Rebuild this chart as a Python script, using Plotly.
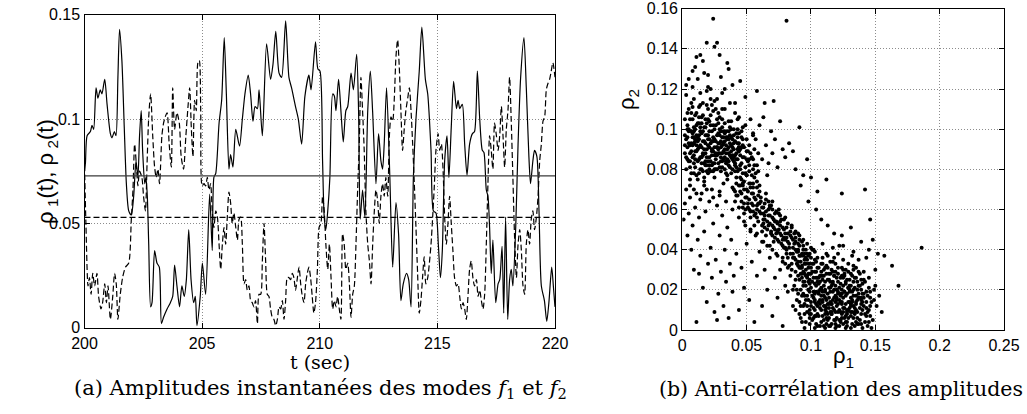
import plotly.graph_objects as go

# ---------------- data : panel (a) time series ----------------
t_rho1 = [200.00, 200.04, 200.11, 200.25, 200.32, 200.39, 200.49, 200.57, 200.67, 200.74,
          200.86, 200.96, 201.10, 201.17, 201.27, 201.34, 201.42, 201.49, 201.59, 201.69,
          201.78, 201.88, 201.99, 202.09, 202.19, 202.27, 202.34, 202.41, 202.47, 202.56,
          202.61, 202.67, 202.73, 202.81, 202.87, 202.98, 203.08, 203.18, 203.27, 203.36,
          203.51, 203.65, 203.75, 203.83, 203.93, 204.04, 204.14, 204.24, 204.33, 204.43,
          204.53, 204.64, 204.71, 204.78, 204.92, 205.01, 205.15, 205.32, 205.43, 205.50,
          205.58, 205.72, 205.83, 205.94, 206.03, 206.14, 206.21, 206.31, 206.43, 206.59,
          206.71, 206.82, 206.96, 207.06, 207.16, 207.25, 207.35, 207.42, 207.56, 207.74,
          207.91, 208.01, 208.13, 208.27, 208.38, 208.55, 208.69, 208.80, 208.97, 209.09,
          209.23, 209.37, 209.54, 209.63, 209.82, 209.92, 210.01, 210.12, 210.19, 210.26,
          210.34, 210.43, 210.55, 210.62, 210.69, 210.80, 210.90, 211.00, 211.11, 211.19,
          211.33, 211.43, 211.57, 211.65, 211.72, 211.82, 211.92, 212.04, 212.15, 212.25,
          212.39, 212.50, 212.60, 212.67, 212.74, 212.84, 212.98, 213.10, 213.24, 213.35,
          213.45, 213.55, 213.69, 213.78, 213.88, 213.98, 214.09, 214.23, 214.34, 214.49,
          214.59, 214.73, 214.83, 214.94, 215.04, 215.13, 215.21, 215.31, 215.41, 215.49,
          215.59, 215.69, 215.81, 215.88, 215.95, 216.06, 216.16, 216.26, 216.37, 216.49,
          216.58, 216.70, 216.80, 216.91, 216.98, 217.08, 217.15, 217.22, 217.29, 217.36,
          217.48, 217.58, 217.65, 217.75, 217.82, 217.90, 217.99, 218.07, 218.14, 218.21,
          218.33, 218.43, 218.54, 218.68, 218.78, 218.89, 218.96, 219.06, 219.13, 219.23,
          219.32, 219.42, 219.55, 219.65, 219.74, 219.86, 219.93, 220.00]
rho1 = [0.075, 0.079, 0.092, 0.094, 0.097, 0.095, 0.115, 0.110, 0.114, 0.112,
        0.119, 0.107, 0.093, 0.091, 0.094, 0.092, 0.120, 0.143, 0.128, 0.096,
        0.069, 0.056, 0.054, 0.063, 0.080, 0.072, 0.092, 0.104, 0.085, 0.069,
        0.072, 0.063, 0.040, 0.010, 0.012, 0.037, 0.031, 0.029, 0.002, 0.005,
        0.009, 0.012, 0.015, 0.030, 0.020, 0.010, 0.020, 0.015, 0.023, 0.047,
        0.023, 0.012, 0.015, 0.001, 0.015, 0.031, 0.016, 0.064, 0.037, 0.072,
        0.074, 0.098, 0.109, 0.139, 0.112, 0.076, 0.083, 0.077, 0.095, 0.087,
        0.100, 0.112, 0.121, 0.112, 0.099, 0.106, 0.105, 0.114, 0.092, 0.136,
        0.119, 0.126, 0.142, 0.122, 0.120, 0.147, 0.120, 0.115, 0.106, 0.100,
        0.088, 0.111, 0.121, 0.114, 0.137, 0.124, 0.123, 0.080, 0.053, 0.047,
        0.056, 0.072, 0.112, 0.111, 0.104, 0.119, 0.104, 0.089, 0.104, 0.106,
        0.122, 0.114, 0.131, 0.104, 0.052, 0.066, 0.053, 0.104, 0.123, 0.103,
        0.069, 0.093, 0.080, 0.076, 0.088, 0.115, 0.072, 0.029, 0.060, 0.045,
        0.013, 0.021, 0.026, 0.023, 0.010, 0.072, 0.100, 0.123, 0.144, 0.119,
        0.112, 0.085, 0.056, 0.055, 0.040, 0.024, 0.037, 0.080, 0.092, 0.072,
        0.096, 0.118, 0.105, 0.109, 0.105, 0.107, 0.088, 0.073, 0.088, 0.093,
        0.094, 0.123, 0.100, 0.085, 0.084, 0.066, 0.063, 0.048, 0.026, 0.042,
        0.012, 0.021, 0.023, 0.039, 0.007, 0.053, 0.004, 0.023, 0.028, 0.020,
        0.048, 0.088, 0.120, 0.139, 0.115, 0.082, 0.069, 0.080, 0.085, 0.082,
        0.056, 0.020, 0.013, 0.003, 0.012, 0.029, 0.020, 0.010]

t_rho2 = [200.00, 200.06, 200.15, 200.21, 200.28, 200.35, 200.43, 200.53, 200.60, 200.70,
          200.77, 200.86, 200.93, 201.00, 201.10, 201.20, 201.28, 201.35, 201.42, 201.52,
          201.62, 201.74, 201.88, 201.99, 202.06, 202.13, 202.20, 202.27, 202.34, 202.44,
          202.51, 202.59, 202.66, 202.73, 202.81, 202.90, 202.98, 203.05, 203.12, 203.19,
          203.29, 203.36, 203.43, 203.51, 203.60, 203.69, 203.75, 203.83, 203.93, 204.03,
          204.11, 204.21, 204.31, 204.40, 204.47, 204.54, 204.61, 204.68, 204.75, 204.82,
          204.88, 204.94, 205.00, 205.08, 205.15, 205.22, 205.29, 205.36, 205.43, 205.50,
          205.58, 205.65, 205.72, 205.79, 205.86, 205.93, 206.00, 206.07, 206.14, 206.21,
          206.28, 206.35, 206.43, 206.50, 206.57, 206.64, 206.71, 206.78, 206.85, 206.92,
          206.99, 207.06, 207.13, 207.20, 207.27, 207.35, 207.42, 207.49, 207.56, 207.63,
          207.70, 207.77, 207.84, 207.91, 207.98, 208.05, 208.13, 208.20, 208.27, 208.34,
          208.41, 208.48, 208.55, 208.62, 208.69, 208.76, 208.83, 208.90, 208.97, 209.05,
          209.12, 209.19, 209.26, 209.33, 209.40, 209.47, 209.54, 209.61, 209.68, 209.75,
          209.82, 209.90, 209.97, 210.05, 210.12, 210.19, 210.26, 210.34, 210.41, 210.48,
          210.55, 210.62, 210.69, 210.76, 210.83, 210.90, 210.97, 211.04, 211.11, 211.19,
          211.26, 211.33, 211.40, 211.47, 211.54, 211.61, 211.68, 211.75, 211.82, 211.89,
          211.96, 212.04, 212.11, 212.18, 212.25, 212.32, 212.39, 212.46, 212.53, 212.60,
          212.67, 212.74, 212.81, 212.89, 212.96, 213.03, 213.10, 213.17, 213.24, 213.31,
          213.38, 213.45, 213.52, 213.59, 213.66, 213.74, 213.81, 213.88, 213.95, 214.02,
          214.09, 214.16, 214.23, 214.30, 214.37, 214.44, 214.51, 214.59, 214.66, 214.73,
          214.80, 214.87, 214.94, 215.03, 215.10, 215.17, 215.24, 215.31, 215.38, 215.45,
          215.52, 215.59, 215.66, 215.73, 215.81, 215.88, 215.95, 216.02, 216.09, 216.16,
          216.23, 216.30, 216.37, 216.44, 216.51, 216.58, 216.66, 216.73, 216.80, 216.87,
          216.94, 217.01, 217.08, 217.15, 217.22, 217.29, 217.36, 217.43, 217.51, 217.58,
          217.65, 217.72, 217.79, 217.86, 217.93, 218.00, 218.07, 218.14, 218.21, 218.28,
          218.36, 218.43, 218.50, 218.57, 218.64, 218.71, 218.78, 218.85, 218.92, 218.99,
          219.06, 219.13, 219.21, 219.28, 219.35, 219.42, 219.49, 219.56, 219.63, 219.70,
          219.77, 219.84, 219.91, 220.00]
rho2 = [0.078, 0.050, 0.020, 0.024, 0.016, 0.026, 0.020, 0.026, 0.015, 0.009,
        0.012, 0.021, 0.012, 0.020, 0.004, 0.015, 0.026, 0.021, 0.004, 0.016,
        0.024, 0.029, 0.031, 0.052, 0.066, 0.088, 0.079, 0.068, 0.075, 0.072,
        0.063, 0.056, 0.079, 0.101, 0.112, 0.092, 0.077, 0.072, 0.076, 0.069,
        0.092, 0.098, 0.101, 0.103, 0.088, 0.077, 0.115, 0.095, 0.103, 0.098,
        0.082, 0.076, 0.092, 0.106, 0.115, 0.096, 0.082, 0.109, 0.104, 0.127,
        0.128, 0.104, 0.068, 0.069, 0.068, 0.072, 0.066, 0.069, 0.056, 0.048,
        0.056, 0.053, 0.040, 0.028, 0.040, 0.048, 0.040, 0.053, 0.065, 0.060,
        0.050, 0.055, 0.048, 0.042, 0.052, 0.053, 0.040, 0.021, 0.023, 0.018,
        0.020, 0.013, 0.012, 0.010, 0.013, 0.002, 0.016, 0.016, 0.032, 0.050,
        0.032, 0.016, 0.015, 0.009, 0.005, 0.004, 0.001, 0.004, 0.010, 0.009,
        0.013, 0.004, 0.013, 0.024, 0.024, 0.023, 0.026, 0.024, 0.018, 0.024,
        0.029, 0.021, 0.015, 0.012, 0.021, 0.026, 0.029, 0.024, 0.015, 0.007,
        0.012, 0.028, 0.048, 0.050, 0.063, 0.056, 0.040, 0.028, 0.040, 0.024,
        0.009, 0.013, 0.010, 0.015, 0.009, 0.004, 0.045, 0.040, 0.028, 0.031,
        0.021, 0.005, 0.016, 0.020, 0.040, 0.066, 0.088, 0.120, 0.104, 0.085,
        0.056, 0.040, 0.032, 0.021, 0.040, 0.056, 0.066, 0.061, 0.050, 0.063,
        0.069, 0.063, 0.072, 0.063, 0.092, 0.101, 0.099, 0.110, 0.130, 0.138,
        0.125, 0.104, 0.085, 0.095, 0.104, 0.110, 0.115, 0.104, 0.088, 0.069,
        0.048, 0.026, 0.007, 0.013, 0.024, 0.034, 0.021, 0.024, 0.031, 0.040,
        0.053, 0.068, 0.085, 0.093, 0.085, 0.088, 0.076, 0.053, 0.040, 0.050,
        0.063, 0.050, 0.037, 0.024, 0.020, 0.021, 0.015, 0.009, 0.012, 0.009,
        0.004, 0.015, 0.028, 0.032, 0.024, 0.020, 0.023, 0.015, 0.018, 0.013,
        0.009, 0.016, 0.040, 0.069, 0.092, 0.085, 0.076, 0.098, 0.092, 0.085,
        0.092, 0.106, 0.092, 0.077, 0.095, 0.104, 0.120, 0.099, 0.072, 0.044,
        0.024, 0.040, 0.047, 0.037, 0.020, 0.016, 0.040, 0.047, 0.040, 0.052,
        0.056, 0.047, 0.053, 0.063, 0.080, 0.088, 0.099, 0.101, 0.114, 0.117,
        0.119, 0.123, 0.127, 0.120]

rho1_mean = 0.0728
rho2_mean = 0.0529

# ---------------- data : panel (b) scatter (values in 1/1000) ----------------
scatter_rho1_milli = [
    2, 3, 4, 5, 5, 6, 7, 7, 8, 8,
    9, 9, 10, 10, 11, 11, 12, 12, 13, 13,
    14, 14, 15, 15, 16, 16, 17, 17, 18, 18,
    19, 19, 20, 20, 21, 21, 22, 22, 23, 23,
    24, 24, 25, 25, 26, 26, 27, 27, 28, 28,
    29, 29, 30, 30, 31, 31, 32, 32, 33, 33,
    34, 34, 35, 35, 36, 36, 37, 37, 38, 38,
    39, 39, 40, 40, 41, 41, 42, 42, 43, 43,
    44, 44, 45, 45, 46, 46, 47, 47, 48, 48,
    49, 50, 50, 51, 52, 52, 53, 54, 55, 56,
    3, 4, 6, 7, 8, 10, 11, 12, 13, 15,
    16, 17, 18, 19, 20, 21, 22, 23, 24, 25,
    26, 27, 28, 29, 30, 31, 32, 33, 34, 35,
    36, 37, 38, 39, 40, 41, 42, 43, 44, 46,
    2, 3, 4, 5, 6, 7, 8, 9, 9, 10,
    11, 12, 13, 14, 14, 15, 16, 16, 17, 18,
    19, 20, 20, 21, 22, 22, 23, 24, 24, 25,
    26, 26, 27, 28, 29, 29, 30, 31, 31, 32,
    33, 33, 34, 35, 36, 36, 37, 38, 38, 39,
    40, 41, 42, 43, 44, 45, 46, 47, 48, 49,
    50, 51, 52, 53, 54, 55, 56, 57, 58, 59,
    4, 6, 8, 10, 12, 14, 16, 18, 21, 23,
    25, 27, 28, 30, 32, 34, 36, 39, 41, 43,
    7, 9, 11, 13, 15, 17, 19, 21, 23, 25,
    3, 5, 8, 10, 12, 14, 16, 17, 19, 20,
    24, 25, 27, 29, 30, 33, 35, 36, 39, 41,
    45, 49, 53, 58, 81, 20, 11, 31, 44, 47,
    57, 59, 60, 62, 63, 65, 67, 69, 70, 72,
    74, 76, 78, 80, 83, 86, 88, 91, 94, 97,
    100, 105, 112, 124, 142, 64, 71, 55, 58, 66,
    40, 41, 42, 43, 44, 45, 46, 47, 48, 49,
    50, 51, 52, 53, 54, 55, 56, 57, 58, 59,
    60, 61, 62, 63, 64, 65, 66, 67, 68, 69,
    70, 71, 72, 73, 74, 75, 76, 77, 78, 79,
    80, 81, 82, 83, 84, 85, 86, 87, 88, 89,
    90, 91, 92, 93, 94, 95, 96, 97, 98, 99,
    45, 48, 52, 55, 58, 61, 64, 67, 70, 73,
    76, 79, 82, 85, 88, 91, 94, 97, 100, 103,
    44, 49, 53, 57, 62, 66, 70, 74, 78, 82,
    60, 63, 68, 72, 77, 81, 86, 90, 93, 96,
    42, 44, 46, 48, 50, 52, 54, 56, 58, 60,
    62, 64, 66, 68, 70, 72, 74, 76, 78, 80,
    82, 84, 86, 88, 90, 92, 94, 96, 98, 100,
    47, 51, 55, 59, 63, 67, 71, 75, 79, 83,
    87, 91, 95, 99, 102, 65, 69, 73, 77, 81,
    85, 87, 88, 89, 90, 91, 92, 93, 94, 95,
    96, 97, 98, 99, 100, 101, 102, 103, 104, 105,
    106, 107, 108, 109, 110, 111, 112, 113, 114, 115,
    116, 117, 118, 119, 120, 121, 122, 123, 124, 125,
    126, 127, 128, 129, 130, 131, 132, 133, 134, 135,
    136, 137, 138, 139, 140, 141, 142, 143, 145, 147,
    88, 90, 92, 94, 96, 98, 100, 102, 104, 106,
    108, 110, 112, 114, 116, 118, 120, 122, 124, 126,
    128, 130, 132, 134, 136, 138, 140, 142, 144, 146,
    93, 97, 101, 105, 109, 113, 117, 121, 125, 129,
    133, 137, 141, 145, 149, 95, 99, 103, 107, 111,
    115, 119, 123, 127, 131, 135, 139, 91, 99, 107,
    115, 123, 131, 139, 147, 150, 103, 111, 119, 127,
    86, 84, 82, 80, 117, 109, 125, 133, 143, 151,
    89, 90, 91, 92, 93, 94, 95, 96, 97, 98,
    99, 100, 101, 102, 103, 104, 105, 106, 107, 108,
    109, 110, 111, 112, 113, 114, 115, 116, 117, 118,
    119, 120, 121, 122, 123, 124, 125, 126, 127, 128,
    129, 130, 131, 132, 133, 134, 135, 136, 137, 138,
    139, 140, 141, 142, 143, 144, 146, 148, 149, 145,
    100, 102, 104, 106, 108, 110, 112, 114, 116, 118,
    120, 122, 124, 126, 128, 130, 132, 134, 136, 138,
    101, 103, 105, 107, 109, 111, 113, 115, 117, 119,
    121, 123, 125, 127, 129, 131, 133, 135, 137, 139,
    96, 98, 105, 109, 113, 117, 121, 125, 129, 133,
    97, 99, 104, 108, 112, 116, 120, 124, 128, 132,
    92, 94, 95, 103, 107, 111, 115, 119, 123, 127,
    131, 135, 137, 141, 143, 144, 146, 110, 114, 118,
    1, 2, 3, 4, 5, 6, 7, 8, 9, 10,
    11, 12, 13, 14, 15, 16, 17, 18, 19, 20,
    21, 22, 23, 24, 25, 26, 27, 28, 29, 30,
    31, 32, 33, 34, 35, 36, 37, 38, 39, 40,
    42, 44, 46, 48, 50, 52, 54, 56, 58, 60,
    62, 64, 66, 68, 70, 72, 74, 76, 78, 80,
    6, 9, 14, 19, 24, 29, 34, 39, 13, 27,
    150, 152, 153, 155, 157, 163, 168, 186, 148, 145,
    139, 146, 131, 124, 118, 113, 108, 104, 98, 92,
    13, 27, 6, 35, 19, 42, 9, 31, 24, 16,
    38, 4, 29, 21, 45, 11, 33, 18, 26, 8,
    40, 14, 36, 23, 2, 30, 17, 44, 12, 28,
    7, 39, 20, 33, 25, 15, 47, 10, 37, 22,
    5, 34, 19, 27, 43, 13, 31, 9, 24, 41,
    51, 57, 63, 69, 74, 80, 86, 92, 97, 55,
    61, 67, 72, 78, 84, 89, 95, 53, 59, 65,
    71, 76, 82, 88, 93, 99, 49, 56, 62, 68,
    75, 81, 87, 94, 58, 64, 70, 79, 85, 91,
    103, 117, 109, 124, 98, 131, 112, 106, 120, 127,
    114, 101, 135, 108, 122, 95, 129, 111, 118, 104,
    125, 133, 116, 99, 139, 107, 121, 113, 128, 102,
    110, 119, 126, 105, 134, 115, 123, 97, 130, 109,
    117, 103, 136, 112, 124, 100, 140, 106, 119, 114,
    127, 108, 132, 121, 111, 94, 137, 116, 125, 104,
    3, 8, 14, 19, 25, 31, 37, 43, 49, 55,
    6, 11, 17, 23, 29, 35, 41, 47, 53, 2,
    5, 10, 15, 20, 26, 32, 38, 44, 50, 56,
    4, 9, 13, 18, 22, 28, 34, 40, 46, 52,
    86, 91, 96, 101, 106, 111, 116, 121, 126, 131,
    136, 141, 146, 88, 93, 98, 103, 108, 113, 118,
    123, 128, 133, 138, 143, 90, 95, 100, 105, 110,
    115, 120, 125, 130, 135, 140, 145, 99, 104, 109,
    114, 119, 124, 129, 134, 139, 102, 112, 122, 132,
    45, 50, 55, 60, 65, 70, 75, 80, 85, 90,
    48, 53, 58, 63, 68, 73, 78, 83, 88, 93,
]
scatter_rho2_milli = [
    88, 95, 102, 84, 110, 92, 78, 99, 105, 86,
    115, 93, 81, 100, 89, 108, 96, 75, 85, 103,
    92, 118, 80, 98, 88, 107, 94, 72, 101, 84,
    90, 112, 97, 78, 86, 104, 93, 120, 82, 99,
    89, 109, 95, 76, 87, 102, 91, 115, 83, 98,
    93, 106, 86, 79, 96, 101, 89, 73, 94, 110,
    84, 99, 90, 77, 95, 104, 87, 81, 92, 100,
    85, 71, 90, 97, 82, 108, 88, 76, 93, 85,
    80, 98, 87, 72, 91, 83, 78, 95, 86, 74,
    81, 89, 77, 84, 79, 92, 73, 86, 80, 76,
    80, 91, 105, 113, 96, 89, 97, 84, 111, 91,
    99, 83, 93, 79, 105, 91, 84, 112, 96, 87,
    94, 80, 103, 88, 94, 84, 99, 80, 92, 85,
    88, 97, 78, 91, 84, 94, 81, 100, 89, 75,
    97, 86, 108, 93, 81, 89, 111, 83, 101, 94,
    77, 103, 91, 86, 99, 106, 79, 94, 101, 88,
    97, 84, 92, 99, 79, 107, 90, 83, 102, 91,
    80, 110, 97, 88, 81, 100, 91, 105, 88, 93,
    86, 103, 78, 96, 82, 91, 101, 86, 96, 80,
    93, 87, 98, 79, 93, 82, 96, 86, 91, 78,
    85, 89, 82, 88, 77, 85, 82, 78, 74, 79,
    96, 88, 92, 107, 90, 80, 113, 97, 82, 94,
    83, 87, 93, 99, 85, 88, 99, 95, 79, 90,
    93, 87, 102, 95, 86, 90, 86, 95, 87, 100,
    122, 125, 129, 131, 125, 137, 134, 128, 143, 121,
    155, 141, 143, 137, 126, 120, 133, 130, 122, 113,
    124, 116, 105, 119, 154, 127, 136, 118, 106, 101,
    95, 88, 102, 85, 106, 92, 83, 99, 88, 95,
    81, 104, 90, 86, 93, 89, 80, 101, 77, 85,
    76, 69, 75, 68, 70, 113, 114, 97, 82, 77,
    70, 64, 73, 67, 61, 69, 64, 72, 58, 66,
    70, 61, 65, 59, 68, 62, 57, 65, 60, 54,
    63, 58, 52, 61, 55, 59, 50, 57, 53, 48,
    56, 51, 46, 54, 49, 44, 52, 47, 42, 50,
    45, 40, 48, 43, 38, 46, 41, 36, 44, 39,
    34, 42, 37, 32, 40, 35, 30, 38, 33, 28,
    76, 70, 73, 68, 71, 66, 63, 64, 60, 59,
    57, 55, 53, 51, 49, 47, 45, 43, 41, 39,
    56, 52, 49, 47, 44, 42, 40, 37, 34, 31,
    69, 53, 61, 50, 43, 46, 45, 40, 44, 36,
    67, 72, 68, 63, 66, 60, 63, 66, 56, 59,
    61, 57, 54, 57, 52, 54, 53, 48, 51, 48,
    44, 47, 38, 40, 43, 34, 37, 40, 31, 36,
    61, 69, 59, 63, 58, 52, 55, 50, 46, 41,
    43, 37, 33, 38, 33, 65, 62, 48, 55, 51,
    30, 22, 35, 15, 27, 8, 20, 31, 12, 24,
    4, 17, 28, 10, 21, 33, 6, 15, 26, 2,
    19, 11, 29, 7, 17, 24, 3, 13, 21, 9,
    30, 15, 5, 22, 12, 18, 2, 26, 8, 16,
    11, 23, 4, 14, 19, 7, 27, 12, 2, 17,
    9, 22, 5, 13, 1, 18, 8, 11, 4, 14,
    25, 18, 12, 29, 22, 15, 8, 26, 13, 31,
    21, 5, 28, 16, 8, 27, 20, 10, 31, 19,
    9, 25, 3, 21, 15, 28, 10, 24, 17, 7,
    38, 35, 40, 36, 33, 37, 34, 38, 30, 33,
    30, 35, 29, 26, 20, 1, 3, 1, 2, 1,
    2, 1, 4, 1, 1, 4, 3, 14, 19, 24,
    19, 14, 16, 20, 1, 22, 10, 12, 9, 7,
    12, 27, 19, 33, 41, 43, 42, 39, 36, 12,
    20, 32, 25, 6, 17, 22, 13, 27, 9, 20,
    33, 14, 24, 11, 29, 19, 8, 23, 15, 4,
    27, 12, 20, 9, 31, 6, 24, 13, 19, 10,
    29, 6, 24, 15, 9, 20, 3, 27, 13, 18,
    6, 11, 22, 15, 6, 26, 10, 20, 3, 16,
    8, 23, 12, 4, 19, 9, 12, 5, 15, 21,
    28, 19, 7, 14, 17, 27, 15, 11, 22, 16,
    26, 21, 13, 6, 25, 14, 19, 8, 24, 11,
    17, 23, 12, 20, 14, 8, 18, 14, 24, 17,
    9, 18, 22, 17, 10, 13, 20, 14, 18, 25,
    33, 24, 31, 36, 25, 29, 31, 26, 29, 24,
    12, 6, 3, 10, 6, 3, 2, 6, 2, 9,
    28, 18, 8, 35, 27, 31, 34, 33, 23, 30,
    28, 26, 29, 16, 14, 2, 19, 22, 28, 20,
    55, 63, 70, 47, 58, 66, 40, 52, 30, 61,
    4, 45, 56, 37, 68, 21, 49, 59, 14, 33,
    64, 41, 26, 53, 9, 35, 62, 18, 47, 29,
    57, 12, 40, 24, 51, 6, 33, 45, 19, 27,
    38, 10, 31, 21, 43, 15, 34, 4, 27, 39,
    12, 30, 20, 36, 7, 26, 16, 30, 2, 22,
    75, 70, 65, 70, 66, 69, 64, 60, 28, 5,
    30, 38, 17, 9, 37, 32, 22, 41, 45, 40,
    44, 55, 51, 47, 48, 52, 55, 60, 64, 72,
    97, 91, 84, 95, 103, 85, 99, 81, 94, 87,
    89, 100, 97, 80, 90, 92, 90, 105, 85, 98,
    86, 101, 84, 89, 92, 84, 76, 91, 94, 90,
    108, 87, 95, 98, 80, 83, 92, 85, 93, 102,
    99, 96, 82, 105, 96, 78, 92, 96, 79, 83,
    63, 58, 55, 49, 45, 41, 36, 31, 27, 71,
    64, 60, 58, 45, 49, 33, 38, 56, 67, 47,
    44, 54, 36, 46, 28, 25, 60, 52, 49, 62,
    58, 38, 48, 42, 62, 51, 47, 41, 33, 45,
    18, 11, 25, 14, 20, 9, 32, 7, 16, 24,
    2, 29, 13, 20, 5, 17, 21, 10, 27, 34,
    11, 17, 8, 23, 15, 13, 28, 5, 8, 16,
    30, 3, 19, 26, 11, 21, 5, 26, 22, 15,
    23, 7, 3, 11, 18, 31, 14, 18, 14, 25,
    4, 27, 14, 13, 19, 24, 16, 13, 9, 22,
    117, 121, 112, 119, 114, 110, 113, 105, 102, 98,
    72, 68, 74, 70, 67, 75, 69, 73, 71, 105,
    100, 95, 103, 110, 88, 96, 104, 91, 95, 90,
    85, 78, 106, 82, 115, 108, 83, 100, 99, 85,
    20, 31, 15, 5, 26, 16, 9, 19, 28, 12,
    6, 25, 16, 10, 4, 37, 14, 33, 8, 36,
    17, 10, 32, 22, 7, 39, 28, 12, 24, 2,
    28, 15, 35, 20, 31, 18, 10, 8, 29, 19,
    13, 5, 27, 21, 9, 16, 40, 38, 42, 37,
    80, 77, 73, 72, 68, 64, 60, 56, 52, 48,
    54, 50, 48, 44, 42, 38, 36, 32, 29, 26,
]
scatter_rho1 = [v / 1000 for v in scatter_rho1_milli]
scatter_rho2 = [v / 1000 for v in scatter_rho2_milli]

# ---------------- ticks / texts ----------------
xa_ticks = [200, 205, 210, 215, 220]
ya_ticks = [0, 0.05, 0.1, 0.15]
ya_ticktext = ["0", "0.05", "0.1", "0.15"]
xb_ticks = [0, 0.05, 0.1, 0.15, 0.2, 0.25]
xb_ticktext = ["0", "0.05", "0.1", "0.15", "0.2", "0.25"]
yb_ticks = [0, 0.02, 0.04, 0.06, 0.08, 0.1, 0.12, 0.14, 0.16]
yb_ticktext = ["0", "0.02", "0.04", "0.06", "0.08", "0.1", "0.12", "0.14", "0.16"]

W, H = 1027, 414


def fx(p):
    return p / W


def fy(p):
    return 1 - p / H


SANS = "Liberation Sans, Arial, sans-serif"
SERIF = "DejaVu Serif, serif"

fig = go.Figure()
fig.add_trace(go.Scatter(x=t_rho1, y=rho1, mode="lines",
                         line=dict(color="black", width=1.2, shape="spline", smoothing=0.7),
                         xaxis="x", yaxis="y"))
fig.add_trace(go.Scatter(x=t_rho2, y=rho2, mode="lines",
                         line=dict(color="black", width=1.2, dash="6px,3px",
                                   shape="spline", smoothing=0.7),
                         xaxis="x", yaxis="y"))
fig.add_trace(go.Scatter(x=[xa_ticks[0], xa_ticks[-1]], y=[rho1_mean, rho1_mean], mode="lines",
                         line=dict(color="#3a3a3a", width=1.2), xaxis="x", yaxis="y"))
fig.add_trace(go.Scatter(x=[xa_ticks[0], xa_ticks[-1]], y=[rho2_mean, rho2_mean], mode="lines",
                         line=dict(color="black", width=1.2, dash="6px,3px"), xaxis="x", yaxis="y"))
fig.add_trace(go.Scatter(x=scatter_rho1, y=scatter_rho2, mode="markers",
                         marker=dict(color="black", size=4, line=dict(width=0)),
                         xaxis="x2", yaxis="y2"))

axis_common = dict(
    showline=True, linecolor="black", linewidth=1.3, mirror="allticks",
    ticks="inside", ticklen=5, tickcolor="black", tickwidth=1,
    showgrid=True, gridcolor="#8c8c8c", griddash="1px,2px", gridwidth=1,
    zeroline=False, automargin=False, ticklabeloverflow="allow",
    tickfont=dict(family=SANS, size=16, color="black"),
)

fig.update_layout(
    width=W, height=H,
    margin=dict(l=0, r=0, t=0, b=0, autoexpand=False),
    paper_bgcolor="white", plot_bgcolor="white",
    showlegend=False,
    xaxis=dict(domain=[fx(84.5), fx(555)], range=[200, 220], tickvals=xa_ticks,
               anchor="y", ticklabelstandoff=1, **axis_common),
    yaxis=dict(domain=[fy(327.7), fy(14.7)], range=[0, 0.15], tickvals=ya_ticks,
               ticktext=ya_ticktext, anchor="x", **axis_common),
    xaxis2=dict(domain=[fx(682.3), fx(1004)], range=[0, 0.25], tickvals=xb_ticks,
                ticktext=xb_ticktext, anchor="y2", ticklabelstandoff=1, **axis_common),
    yaxis2=dict(domain=[fy(330), fy(8.7)], range=[0, 0.16], tickvals=yb_ticks,
                ticktext=yb_ticktext, anchor="x2", **axis_common),
)

annots = [
    dict(text="ρ\u2009<sub>1</sub>(t), ρ\u2009<sub>2</sub>(t)", x=fx(47), y=fy(172), textangle=-90,
         font=dict(family=SANS, size=22, color="black")),
    dict(text="t (sec)", x=fx(320), y=fy(362),
         font=dict(family=SERIF, size=19, color="black")),
    dict(text="ρ<sub>2</sub>", x=fx(628), y=fy(100), textangle=-90,
         font=dict(family=SANS, size=22, color="black")),
    dict(text="ρ<sub>1</sub>", x=fx(843), y=fy(357),
         font=dict(family=SANS, size=22, color="black")),
    dict(text="(a) Amplitudes instantanées des modes <i>f</i><sub>1</sub> et <i>f</i><sub>2</sub>",
         x=fx(320), y=fy(389), font=dict(family=SERIF, size=21, color="black")),
    dict(text="(b) Anti-corrélation des amplitudes",
         x=fx(841), y=fy(389), font=dict(family=SERIF, size=20.5, color="black")),
]
for a in annots:
    a.update(xref="paper", yref="paper", showarrow=False, xanchor="center", yanchor="middle")
fig.update_layout(annotations=annots)

# remove the browser's default 8px page margin so the figure sits at the window origin
fig.write_html("out.html", config={"displayModeBar": False},
               post_script="document.body.style.margin='0px';")
